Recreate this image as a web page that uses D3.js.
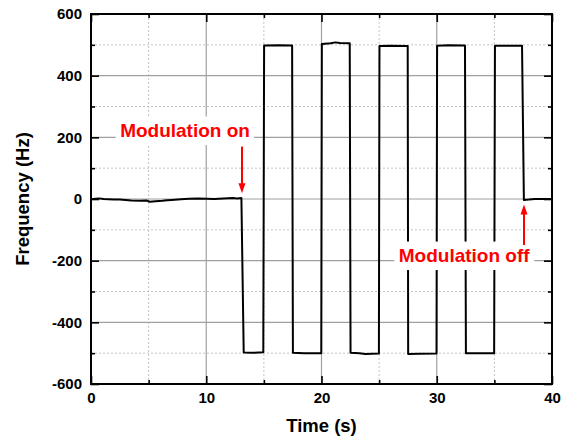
<!DOCTYPE html>
<html>
<head>
<meta charset="utf-8">
<script src="https://cdn.jsdelivr.net/npm/d3@7"></script>
<style>
  body { margin: 0; background: #fff; }
  svg { display: block; font-family: Arial, "Liberation Sans", sans-serif; }
</style>
</head>
<body>
<svg id="chart" width="567" height="445"></svg>
<script>
// --- data ---
var timeS = [0, 0.4, 0.7, 1.1, 1.5, 2.0, 2.5, 3.0, 3.5, 4.3, 4.8, 5.1, 5.6, 6.2, 6.6, 7.0, 7.8, 8.5, 9.3, 10.0, 10.7, 11.1, 11.5, 12.3, 12.7, 13.05,
  13.25, 14.0, 14.95,
  15.02, 16.3, 17.45,
  17.52, 18.5, 19.98,
  20.03, 20.8, 21.2, 21.6, 22.45,
  22.52, 23.3, 23.8, 24.98,
  25.03, 26.0, 27.48,
  27.52, 28.5, 29.98,
  30.03, 31.0, 32.45,
  32.53, 33.5, 34.98,
  35.05, 36.3, 37.4,
  37.56, 38.0, 38.5, 40];
var freqHz = [-1, 1, 2, 0, -1, -2, -2, -3, -5, -6, -5, -9, -7, -6, -4, -3, -1, 1, 2, 1, 0, 1, 2, 3, 2, 3,
  -498, -499, -497,
  498, 499, 498,
  -499, -500, -500,
  503, 505, 508, 506, 505,
  -499, -500, -503, -501,
  496, 497, 496,
  -503, -502, -501,
  497, 499, 498,
  -500, -500, -500,
  497, 497, 497,
  -3, -2, 0, 0];

var xMajor = [0, 10, 20, 30, 40];
var xMinor = [5, 15, 25, 35];
var yMajor = [-600, -400, -200, 0, 200, 400, 600];
var yMinor = [-500, -300, -100, 100, 300, 500];

// annotations (data units)
var notes = [
  {label: "Modulation on",  tx: 8.16,  ty: 201,    ax: 13.1,  from: 170,  to: 19},
  {label: "Modulation off", tx: 32.38, ty: -204.5, ax: 37.57, from: -149, to: -18}
];

var svg = d3.select("#chart");
var plotL = 91, plotR = 552, plotT = 14, plotB = 384;

var x = d3.scaleLinear().domain([0, 40]).range([plotL, plotR]);
var y = d3.scaleLinear().domain([-600, 600]).range([plotB, plotT]);

// grid: minor dashed, major solid
var grid = svg.append("g");
grid.selectAll("line.vminor").data(xMinor).enter().append("line")
  .attr("x1", d => x(d)).attr("x2", d => x(d)).attr("y1", plotT).attr("y2", plotB)
  .attr("stroke", "#c4c4c4").attr("stroke-width", 1).attr("stroke-dasharray", "2,2");
grid.selectAll("line.hminor").data(yMinor).enter().append("line")
  .attr("x1", plotL).attr("x2", plotR).attr("y1", d => y(d)).attr("y2", d => y(d))
  .attr("stroke", "#c4c4c4").attr("stroke-width", 1).attr("stroke-dasharray", "2,2");
grid.selectAll("line.vmajor").data(xMajor.slice(1, -1)).enter().append("line")
  .attr("x1", d => x(d)).attr("x2", d => x(d)).attr("y1", plotT).attr("y2", plotB)
  .attr("stroke", "#a0a0a0").attr("stroke-width", 1.2);
grid.selectAll("line.hmajor").data(yMajor.slice(1, -1)).enter().append("line")
  .attr("x1", plotL).attr("x2", plotR).attr("y1", d => y(d)).attr("y2", d => y(d))
  .attr("stroke", "#a0a0a0").attr("stroke-width", 1.2);

// the signal
var line = d3.line().x((d, i) => x(timeS[i])).y(d => y(d));
svg.append("path")
  .attr("d", line(freqHz))
  .attr("fill", "none")
  .attr("stroke", "#000")
  .attr("stroke-width", 2)
  .attr("stroke-linejoin", "round");

// axes with inward ticks on all four sides
function styleAxis(g, labels) {
  g.selectAll("path.domain").remove();
  g.selectAll(".tick line").attr("stroke", "#000").attr("stroke-width", 1.6);
  if (!labels) g.selectAll(".tick text").remove();
  else g.selectAll(".tick text").attr("fill", "#000")
    .style("font-size", "15px").style("font-weight", "bold");
}
var plain = d => String(d); // hyphen minus, as in the original
svg.append("g").attr("transform", "translate(0," + plotB + ")")
  .call(d3.axisBottom(x).tickValues(xMajor).tickSize(-8).tickPadding(8).tickFormat(plain))
  .call(g => styleAxis(g, true));
svg.append("g").attr("transform", "translate(0," + plotB + ")")
  .call(d3.axisBottom(x).tickValues(xMinor).tickSize(-4))
  .call(g => styleAxis(g, false));
svg.append("g").attr("transform", "translate(0," + plotT + ")")
  .call(d3.axisTop(x).tickValues(xMajor).tickSize(-8))
  .call(g => styleAxis(g, false));
svg.append("g").attr("transform", "translate(0," + plotT + ")")
  .call(d3.axisTop(x).tickValues(xMinor).tickSize(-4))
  .call(g => styleAxis(g, false));
svg.append("g").attr("transform", "translate(" + plotL + ",0)")
  .call(d3.axisLeft(y).tickValues(yMajor).tickSize(-8).tickPadding(9).tickFormat(plain))
  .call(g => styleAxis(g, true));
svg.append("g").attr("transform", "translate(" + plotL + ",0)")
  .call(d3.axisLeft(y).tickValues(yMinor).tickSize(-4))
  .call(g => styleAxis(g, false));
svg.append("g").attr("transform", "translate(" + plotR + ",0)")
  .call(d3.axisRight(y).tickValues(yMajor).tickSize(-8))
  .call(g => styleAxis(g, false));
svg.append("g").attr("transform", "translate(" + plotR + ",0)")
  .call(d3.axisRight(y).tickValues(yMinor).tickSize(-4))
  .call(g => styleAxis(g, false));

// frame
svg.append("rect")
  .attr("x", plotL).attr("y", plotT).attr("width", plotR - plotL).attr("height", plotB - plotT)
  .attr("fill", "none").attr("stroke", "#000").attr("stroke-width", 2);

// annotations: white box, red text, red arrow
notes.forEach(function(n) {
  var g = svg.append("g");
  var box = g.append("rect").attr("fill", "#fff");
  var t = g.append("text")
    .attr("x", x(n.tx)).attr("y", y(n.ty))
    .attr("text-anchor", "middle")
    .attr("fill", "#ff0000")
    .style("font-size", "19px").style("font-weight", "bold")
    .text(n.label);
  var bb = t.node().getBBox();
  box.attr("x", bb.x - 4.5).attr("width", bb.width + 8.5)
    .attr("y", y(n.ty) - 20.5).attr("height", 28.5);

  var ax = x(n.ax), y0 = y(n.from), y1 = y(n.to);
  var dir = y1 > y0 ? 1 : -1;
  g.append("line")
    .attr("x1", ax).attr("x2", ax).attr("y1", y0).attr("y2", y1 - dir * 8)
    .attr("stroke", "#ff0000").attr("stroke-width", 2);
  g.append("path")
    .attr("d", "M" + ax + "," + y1 + "L" + (ax - 3.5) + "," + (y1 - dir * 10) +
      "L" + (ax + 3.5) + "," + (y1 - dir * 10) + "Z")
    .attr("fill", "#ff0000");
});

// axis titles
svg.append("text")
  .attr("x", (plotL + plotR) / 2).attr("y", 432)
  .attr("text-anchor", "middle")
  .style("font-size", "18.5px").style("font-weight", "bold")
  .text("Time (s)");
svg.append("text")
  .attr("transform", "translate(29," + ((plotT + plotB) / 2) + ") rotate(-90)")
  .attr("text-anchor", "middle")
  .style("font-size", "18.5px").style("font-weight", "bold")
  .text("Frequency (Hz)");
</script>
</body>
</html>
